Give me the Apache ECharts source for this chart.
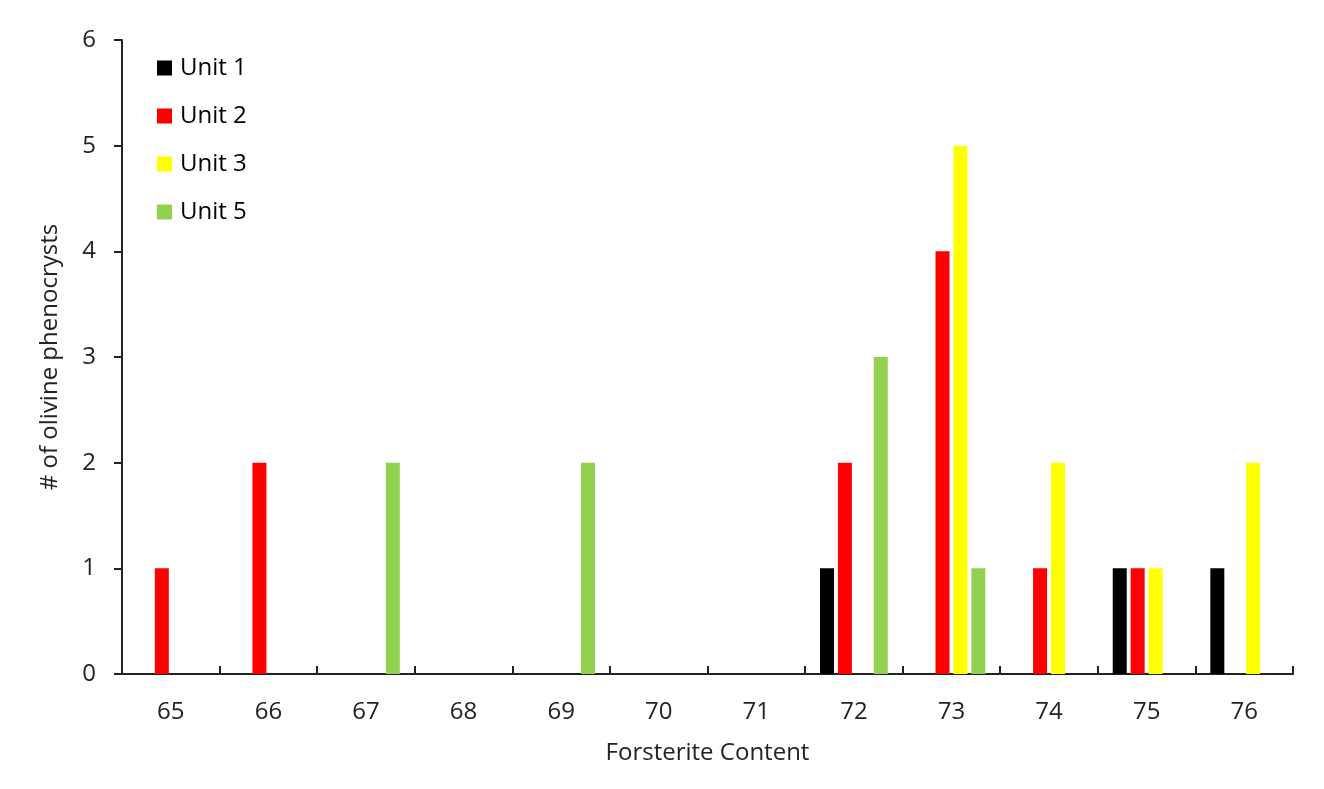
<!DOCTYPE html>
<html><head><meta charset="utf-8">
<script src="https://cdn.jsdelivr.net/npm/echarts@6/dist/echarts.min.js"></script>
<style>html,body{margin:0;padding:0;background:#fff}#c{width:1324px;height:789px}</style>
</head><body><div id="c"></div>
<script>
const categories = ['65','66','67','68','69','70','71','72','73','74','75','76'];
const unit1 = [0,0,0,0,0,0,0,1,0,0,1,1];
const unit2 = [1,2,0,0,0,0,0,2,4,1,1,0];
const unit3 = [0,0,0,0,0,0,0,0,5,2,1,2];
const unit5 = [0,0,2,0,2,0,0,3,1,0,0,0];
const yTicks = [0,1,2,3,4,5,6];

const font = "'Open Sans', 'Noto Sans', sans-serif";
const nz = a => a.map(v => v === 0 ? null : v);
const chart = echarts.init(document.getElementById('c'));
const mk = (name, data, color) => ({
  name, type: 'bar', data: nz(data), barWidth: 14, barGap: '28%',
  itemStyle: { color }
});
chart.setOption({
  animation: false,
  textStyle: { fontFamily: font },
  grid: { left: 122, right: 31, top: 40, bottom: 115, containLabel: false },
  legend: {
    orient: 'vertical', left: 152, top: 51, itemWidth: 15, itemHeight: 15, itemGap: 24,
    icon: 'rect',
    textStyle: { fontSize: 24, lineHeight: 24, color: '#000', fontFamily: font, padding: [0,0,0,3] },
    data: ['Unit 1','Unit 2','Unit 3','Unit 5']
  },
  xAxis: {
    type: 'category', data: categories,
    name: 'Forsterite Content', nameLocation: 'middle', nameGap: 67,
    nameTextStyle: { fontSize: 24, color: '#222', fontFamily: font },
    axisLine: { lineStyle: { color: '#222', width: 2 } },
    axisTick: { show: true, inside: true, length: 8, lineStyle: { color: '#222', width: 2 } },
    axisLabel: { fontSize: 24, color: '#222', margin: 26, fontFamily: font }
  },
  yAxis: {
    type: 'value', min: 0, max: 6, interval: 1,
    name: '# of olivine phenocrysts', nameLocation: 'middle', nameGap: 60,
    nameTextStyle: { fontSize: 24, color: '#222', fontFamily: font },
    axisLine: { show: true, lineStyle: { color: '#222', width: 2 } },
    axisTick: { show: true, length: 8, lineStyle: { color: '#222', width: 2 } },
    axisLabel: { fontSize: 24, color: '#222', margin: 26, fontFamily: font,
      formatter: v => yTicks.includes(v) ? String(v) : '' },
    splitLine: { show: false }
  },
  series: [
    mk('Unit 1', unit1, '#000000'),
    mk('Unit 2', unit2, '#FF0000'),
    mk('Unit 3', unit3, '#FFFF00'),
    mk('Unit 5', unit5, '#92D050')
  ]
});
</script></body></html>
